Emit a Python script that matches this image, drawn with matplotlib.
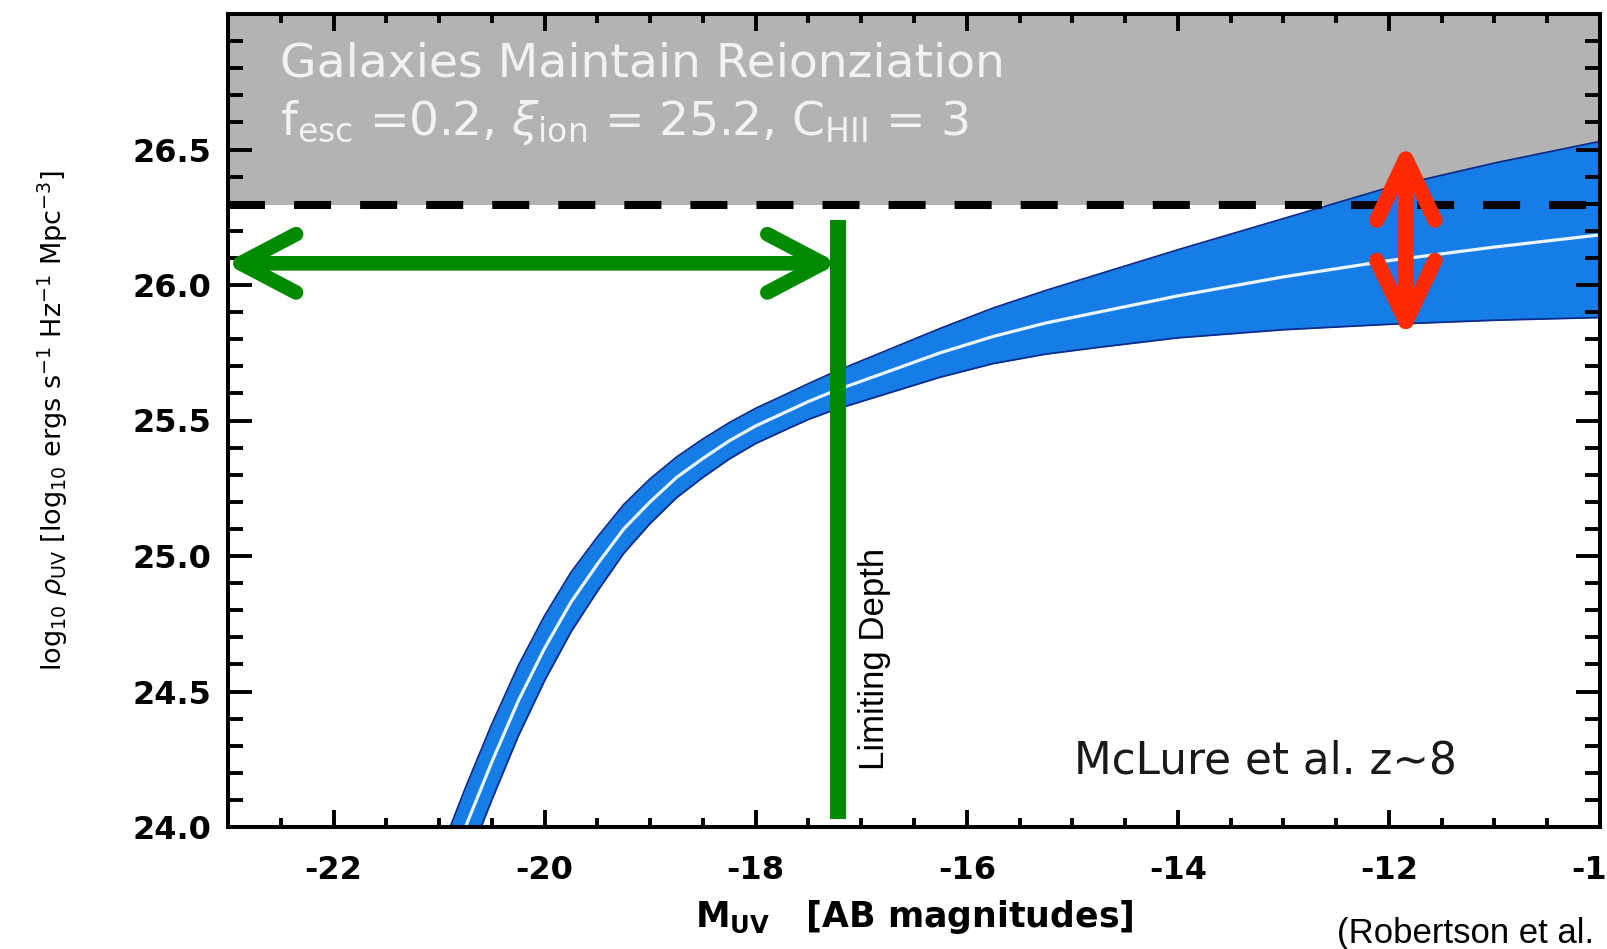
import matplotlib
matplotlib.use("Agg")
import matplotlib.pyplot as plt
from matplotlib.ticker import MultipleLocator, FixedLocator

# ---------------- data ----------------
mag_uv = [-21.0, -20.75, -20.5, -20.25, -20.0, -19.75, -19.5, -19.25, -19.0,
          -18.75, -18.5, -18.25, -18.0, -17.75, -17.5, -17.25, -16.75, -16.25,
          -15.75, -15.25, -14.75, -14.0, -13.0, -12.0, -11.0, -10.0]
rho_mid = [23.745, 24.00, 24.24, 24.465, 24.66, 24.83, 24.97, 25.10, 25.20,
           25.29, 25.36, 25.425, 25.48, 25.525, 25.57, 25.61, 25.68, 25.75,
           25.81, 25.86, 25.90, 25.96, 26.03, 26.09, 26.14, 26.185]
rho_hi = [23.895, 24.145, 24.38, 24.595, 24.78, 24.94, 25.07, 25.19, 25.285,
          25.365, 25.432, 25.492, 25.545, 25.59, 25.636, 25.68, 25.76, 25.84,
          25.915, 25.98, 26.04, 26.13, 26.245, 26.36, 26.45, 26.53]
rho_lo = [23.595, 23.855, 24.10, 24.335, 24.54, 24.72, 24.87, 25.01, 25.12,
          25.215, 25.29, 25.358, 25.415, 25.46, 25.504, 25.54, 25.60, 25.66,
          25.71, 25.745, 25.77, 25.805, 25.835, 25.855, 25.87, 25.88]

reion_level = 26.295          # galaxies-maintain-reionization threshold
limiting_depth = -17.22       # limiting magnitude
green_arrow_y = 26.08
green_arrow_x = [-23.03, -17.215]
red_arrow_x = -11.84
red_arrow_y = [25.80, 26.53]

x_ticks = [-22, -20, -18, -16, -14, -12, -10]
y_ticks = [24.0, 24.5, 25.0, 25.5, 26.0, 26.5]
y_ticklabels = ["24.0", "24.5", "25.0", "25.5", "26.0", "26.5"]

# ---------------- style ----------------
plt.rcParams["font.family"] = ["DejaVu Sans"]
plt.rcParams["mathtext.fontset"] = "dejavusans"
plt.rcParams["axes.unicode_minus"] = False

W, H = 1607, 949
fig = plt.figure(figsize=(W / 100, H / 100), dpi=100)
L, R, T, B = 228, 1600, 14, 827
ax = fig.add_axes([L / W, 1 - B / H, (R - L) / W, (B - T) / H])
ax.set_xlim(-23, -10)
ax.set_ylim(24.0, 27.0)

green = "#008a00"
red = "#ff2a00"

# grey region
ax.axhspan(reion_level, 27.0, color="#b3b3b3", lw=0, zorder=0)

# blue band
ax.fill_between(mag_uv, rho_lo, rho_hi, color="#167de7", lw=0, zorder=1)
ax.plot(mag_uv, rho_hi, color="#0b2c8c", lw=1.3, zorder=2)
ax.plot(mag_uv, rho_lo, color="#0b2c8c", lw=1.3, zorder=2)
ax.plot(mag_uv, rho_mid, color="#eaf6ff", lw=2.3, zorder=3)

# dashed threshold
ax.axhline(reion_level, color="black", lw=5.8, dashes=(4.6, 3.6), zorder=4)

# texts in the grey region
ax.text(-22.51, 26.77, "Galaxies Maintain Reionziation", color="#f2f2f2",
        fontsize=34, ha="left", va="baseline", zorder=5)
ax.text(-22.51, 26.555,
        r"f$_{\rm esc}$ =0.2, $\xi_{\rm ion}$ = 25.2, C$_{\rm HII}$ = 3",
        color="#f2f2f2", fontsize=34, ha="left", va="baseline", zorder=5)

# limiting depth line + label
ax.plot([limiting_depth, limiting_depth], [24.03, 26.24], color=green, lw=11.5,
        solid_capstyle="butt", zorder=6)
ax.text(-16.87, 24.21, "Limiting Depth", rotation=90, ha="center", va="bottom",
        fontsize=25, family="Liberation Sans", color="black", zorder=6)

# green horizontal double arrow
ax.annotate("", xy=(green_arrow_x[0], green_arrow_y), xytext=(green_arrow_x[1], green_arrow_y),
            arrowprops=dict(arrowstyle="<->,head_length=40,head_width=21",
                            color=green, lw=10.5, shrinkA=0, shrinkB=0,
                            mutation_scale=1, capstyle="round", joinstyle="round"),
            annotation_clip=False, zorder=7)

# red vertical double arrow
ax.annotate("", xy=(red_arrow_x, red_arrow_y[1]), xytext=(red_arrow_x, red_arrow_y[0]),
            arrowprops=dict(arrowstyle="<->,head_length=44,head_width=21",
                            color=red, lw=11, shrinkA=0, shrinkB=0,
                            mutation_scale=1, capstyle="round", joinstyle="round"),
            annotation_clip=False, zorder=7)

# McLure label
ax.text(-14.98, 24.244, "McLure et al. z\u223c8", fontsize=31.5, color="#1a1a1a",
        ha="left", va="center", zorder=6)

# axes styling
for s in ax.spines.values():
    s.set_linewidth(2.9)
    s.set_zorder(10)
ax.xaxis.set_major_locator(FixedLocator(x_ticks))
ax.xaxis.set_minor_locator(MultipleLocator(0.5))
ax.yaxis.set_major_locator(FixedLocator(y_ticks))
ax.yaxis.set_minor_locator(MultipleLocator(0.1))
ax.set_yticklabels(y_ticklabels)
ax.tick_params(axis="both", which="both", direction="in", top=True, right=True,
               width=2.8, zorder=10)
ax.tick_params(axis="x", which="major", length=12, pad=20)
ax.tick_params(axis="x", which="minor", length=6.5)
ax.tick_params(axis="y", which="major", length=17, pad=12)
ax.tick_params(axis="y", which="minor", length=11)
for lab in ax.get_xticklabels() + ax.get_yticklabels():
    lab.set_fontsize(23)
    lab.set_fontweight("bold")

ax.set_xlabel(r"M$_{\mathbf{UV}}$   [AB magnitudes]", fontsize=25, fontweight="bold",
              va="center")
ax.xaxis.set_label_coords(0.5, -0.1107)
ax.set_ylabel(r"log$_{10}$ $\rho_{\rm UV}$ [log$_{10}$ ergs s$^{-1}$ Hz$^{-1}$ Mpc$^{-3}$]",
              fontsize=19.5, va="center")
ax.yaxis.set_label_coords(-0.1276, 0.5)

fig.text(1337 / W, 1 - 933 / H, "(Robertson et al.", fontsize=25,
         family="Liberation Sans", ha="left", va="center", color="black")

fig.savefig("out.png", dpi=100)
